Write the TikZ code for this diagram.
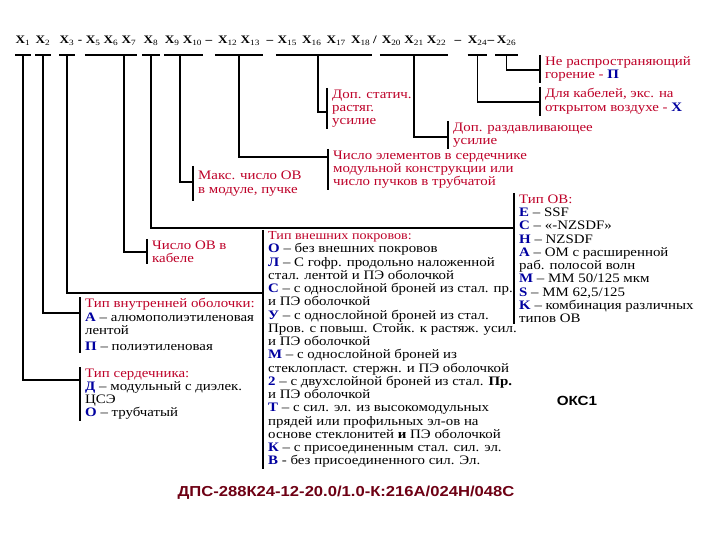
\documentclass[tikz,border=0pt]{standalone}
\usepackage{fontspec}
\setmainfont{Liberation Serif}[FakeStretch=1.15]
\setsansfont{Liberation Sans}[FakeStretch=1.15]
\definecolor{okred}{RGB}{190,0,40}
\definecolor{okblue}{RGB}{0,0,160}
\definecolor{okmaroon}{RGB}{110,0,20}
\newcommand{\Xs}[1]{\textbf{X}\textsubscript{#1}}
\newcommand{\kl}[1]{\textbf{\textcolor{okblue}{#1}}}
\usetikzlibrary{positioning}

\begin{document}
\begin{tikzpicture}[x=1bp,y=-1bp,
  hdr/.style={font=\fontsize{11.5}{13}\selectfont,inner xsep=0pt,inner ysep=0pt,
    text depth=11bp,anchor=base},
  sepmark/.style={font=\fontsize{11.5}{13}\selectfont\bfseries,inner sep=0pt,anchor=base},
  note/.style={anchor=north west,align=left,inner xsep=5bp,inner ysep=1.5bp,
    font=\fontsize{13}{13.3}\selectfont},
  hot/.style={note,text=okred},
  link/.style={line width=1.8bp},
  bar/.style={line width=2.6bp}
]
  \fill[white] (0,0) rectangle (720,540);
  % header of the code
  \node[hdr,minimum width=13bp] (g1) at (23,44) {\Xs{1}};
  \node[hdr,minimum width=14bp] (g2) at (43,44) {\Xs{2}};
  \node[hdr,minimum width=14bp] (g3) at (67,44) {\Xs{3}};
  \node[sepmark] (s1) at (80,44) {-};
  \node[hdr,minimum width=52bp] (g4) at (111,44) {\Xs{5} \Xs{6} \Xs{7}};
  \node[hdr,minimum width=18bp] (g5) at (151,44) {\Xs{8}};
  \node[hdr,minimum width=39bp] (g6) at (183.5,44) {\Xs{9} \Xs{10}};
  \node[sepmark] (s2) at (209,44) {--};
  \node[hdr,minimum width=48bp] (g7) at (239,44) {\Xs{12} \Xs{13}};
  \node[sepmark] (s3) at (270,44) {--};
  \node[hdr,minimum width=96bp] (g8) at (324,44) {\Xs{15}\, \Xs{16}\, \Xs{17}\, \Xs{18}};
  \node[sepmark] (s4) at (375,44) {/};
  \node[hdr,minimum width=68bp] (g9) at (414,44) {\Xs{20} \Xs{21} \Xs{22}};
  \node[sepmark] (s5) at (458,44) {--};
  \node[hdr,minimum width=19bp] (g10) at (477.5,44) {\Xs{24}};
  \node[sepmark] (s6) at (491,44) {--};
  \node[hdr,minimum width=22bp] (g11) at (506.5,44) {\Xs{26}};
  \foreach \g in {g1,g2,g3,g4,g5,g6,g7,g8,g9,g10,g11}
    \draw[link] (\g.south west) -- (\g.south east);

  % explanations
  \node[hot] (nonflam) at (540,55) {Не распространяющий\\горение - \kl{П}};
  \node[hot] (openair) at (540,87) {Для кабелей, экс. на\\открытом воздухе - \kl{Х}};
  \node[hot] (static) at (327,88) {Доп. статич.\\ растяг.\\усилие};
  \node[hot] (crush) at (448,121) {Доп. раздавливающее\\усилие};
  \node[hot] (elems) at (328,149) {Число элементов в сердечнике\\модульной конструкции или\\число пучков в трубчатой};
  \node[hot,inner ysep=5bp] (maxfib) at (193,166) {Макс. число ОВ\\в модуле, пучке};
  \node[note] (fibtype) at (514,193) {\textcolor{okred}{Тип ОВ:}\\
    \kl{E} -- SSF\\
    \kl{C} -- «-NZSDF»\\
    \kl{H} -- NZSDF\\
    \kl{A} -- ОМ с расширенной\\
    раб. полосой волн\\
    \kl{M} -- ММ 50/125 мкм\\
    \kl{S} -- ММ 62,5/125\\
    \kl{K} -- комбинация различных\\
    типов ОВ};
  \node[hot] (count) at (147,239) {Число ОВ в\\кабеле};
  \node[note] (ext) at (263,230) {\textcolor{okred}{\fontsize{12.3}{13.3}\selectfont Тип внешних покровов:}\\
    \kl{О} -- без внешних покровов\\
    \kl{Л} -- С гофр. продольно наложенной\\
    стал. лентой и ПЭ оболочкой\\
    \kl{С} -- с однослойной броней из стал. пр.\\
    и ПЭ оболочкой\\
    \kl{У} -- с однослойной броней из стал.\\
    Пров. с повыш. Стойк. к растяж. усил.\\
    и ПЭ оболочкой\\
    \kl{М} -- с однослойной броней из\\
    стеклопласт. стержн. и ПЭ оболочкой\\
    \kl{2} -- с двухслойной броней из стал. \textbf{Пр.}\\
    и ПЭ оболочкой\\
    \kl{Т} -- с сил. эл. из высокомодульных\\
    прядей или профильных эл-ов на\\
    основе стеклонитей \textbf{и} ПЭ оболочкой\\
    \kl{К} -- с присоединенным стал. сил. эл.\\
    \kl{В} - без присоединенного сил. Эл.};
  \node[note] (inner) at (80,297) {\textcolor{okred}{Тип внутренней оболочки:}\\
    \kl{А} -- алюмополиэтиленовая\\
    лентой\\[3bp]
    \kl{П} -- полиэтиленовая};
  \node[note] (core) at (80,367) {\textcolor{okred}{Тип сердечника:}\\
    \kl{Д} -- модульный с диэлек.\\
    ЦСЭ\\
    \kl{О} -- трубчатый};
  \foreach \n in {nonflam,openair,static,crush,elems,maxfib,fibtype,count,ext,inner,core}
    \draw[bar] (\n.north west) -- (\n.south west);

  % connectors
  \draw[link] (g1.south) |- (core.west |- 0,380);
  \draw[link] (g2.south) |- (inner.west |- 0,313);
  \draw[link] (g3.south) |- (ext.west |- 0,293);
  \draw[link] ([xshift=13bp]g4.south) |- (count.west |- 0,252);
  \draw[link] (g5.south) |- (fibtype.west |- 0,228);
  \draw[link] ([xshift=-3.5bp]g6.south) |- (maxfib.west |- 0,182);
  \draw[link] (g7.south) |- (elems.west |- 0,157);
  \draw[link] ([xshift=-6bp]g8.south) |- (static.west |- 0,112);
  \draw[link] (g9.south) |- (crush.west |- 0,137);
  \draw[link] (g10.south) |- (openair.west |- 0,102);
  \draw[link] (g11.south) |- (nonflam.west |- 0,70);

  \node[font=\sffamily\bfseries\fontsize{13.3}{15}\selectfont] (mark) at (577,401) {ОКС1};
  \node[font=\sffamily\bfseries\fontsize{14.5}{16}\selectfont,text=okmaroon] (code) at (346,493)
    {ДПС-288К24-12-20.0/1.0-К:216А/024Н/048С};
\end{tikzpicture}
\end{document}
